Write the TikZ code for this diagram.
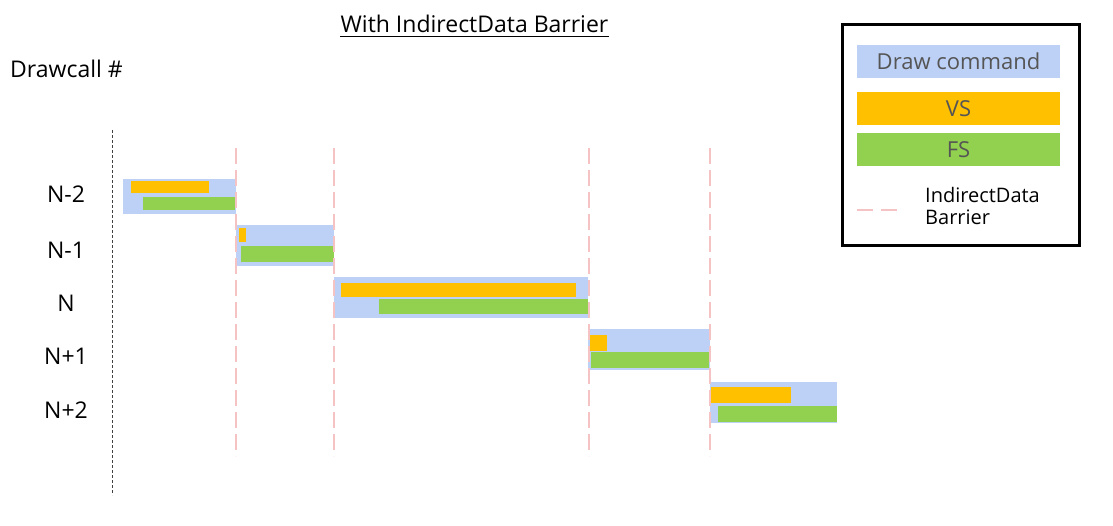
\documentclass[tikz,border=0pt]{standalone}
\usepackage{fontspec}
\setmainfont{Open Sans}
\definecolor{dcblue}{RGB}{189,209,246}
\definecolor{vsorange}{RGB}{255,192,0}
\definecolor{fsgreen}{RGB}{146,208,80}
\definecolor{barrierpink}{RGB}{245,195,195}
\definecolor{legtext}{RGB}{85,85,85}
\tikzset{
  lbl/.style={font=\fontsize{23}{26}\selectfont, inner sep=0pt},
  dcbar/.style={fill=dcblue},
  vsbar/.style={fill=vsorange},
  fsbar/.style={fill=fsgreen},
  barrier/.style={draw=barrierpink, line width=2pt, dash pattern=on 16pt off 6pt},
  axis/.style={draw=black!75, line width=0.8pt, dash pattern=on 3pt off 2pt},
  legbox/.style={inner sep=0pt, minimum width=203pt, minimum height=33pt, font=\fontsize{22}{24}\selectfont, text=legtext}
}
\begin{document}
\begin{tikzpicture}[x=1pt,y=-1pt]
\useasboundingbox (0,0) rectangle (1113,526);
% title
\node[lbl, anchor=base] (title) at (474.5,33) {With IndirectData Barrier};
\draw[line width=1pt] (title.south west |- 0,37) coordinate (ul1) -- (title.south east |- 0,37) coordinate (ul2);
\node[lbl, anchor=base west] (dc) at (10,78) {Drawcall \#};
% axis
\coordinate (axtop) at (112,130);
\coordinate (axbot) at (112,495);
\draw[axis] (axtop) -- (axbot);
% row labels
\node[lbl, anchor=base] (l1) at (66,203) {N-2};
\node[lbl, anchor=base] (l2) at (66,259) {N-1};
\node[lbl, anchor=base] (l3) at (66,312) {N};
\node[lbl, anchor=base] (l4) at (66,364) {N+1};
\node[lbl, anchor=base] (l5) at (66,418) {N+2};
% bars N-2
\fill[dcbar] (123,179) rectangle (236,214);
\fill[vsbar] (131,181) rectangle (209,193);
\fill[fsbar] (143,197) rectangle (235,210);
% N-1
\fill[dcbar] (236,225) rectangle (334,266);
\fill[vsbar] (239,228) rectangle (246,242);
\fill[fsbar] (241,246) rectangle (334,262);
% N
\fill[dcbar] (334,277) rectangle (588,318);
\fill[vsbar] (341,283) rectangle (576,297);
\fill[fsbar] (379,299) rectangle (588,314);
% N+1
\fill[dcbar] (588,329) rectangle (710,370);
\fill[vsbar] (590,335) rectangle (607,351);
\fill[fsbar] (591,352) rectangle (709,368);
% N+2
\fill[dcbar] (710,382) rectangle (837,423);
\fill[vsbar] (711,387) rectangle (791,403);
\fill[fsbar] (718,406) rectangle (837,422);
% barriers
\foreach \xx/\nm in {236/b1,334/b2,589/b3,710/b4}{
  \coordinate (\nm t) at (\xx,148);
  \coordinate (\nm b) at (\xx,456);
  \draw[barrier] (\nm t) -- (\nm b);
}
% legend
\draw[line width=3pt] (842,25) rectangle (1079,246);
\node[legbox, fill=dcblue] (lg1) at (958.5,61.5) {Draw command};
\node[legbox, fill=vsorange] (lg2) at (958.5,108.5) {VS};
\node[legbox, fill=fsgreen] (lg3) at (958.5,149.5) {FS};
\coordinate (lgd1) at (857,210);
\coordinate (lgd2) at (905,210);
\draw[barrier, dash pattern=on 16pt off 8pt] (lgd1) -- (lgd2);
\node[lbl, anchor=west, align=left, font=\fontsize{20}{22}\selectfont] (lg4) at (925,206) {IndirectData\\Barrier};
\end{tikzpicture}
\end{document}
